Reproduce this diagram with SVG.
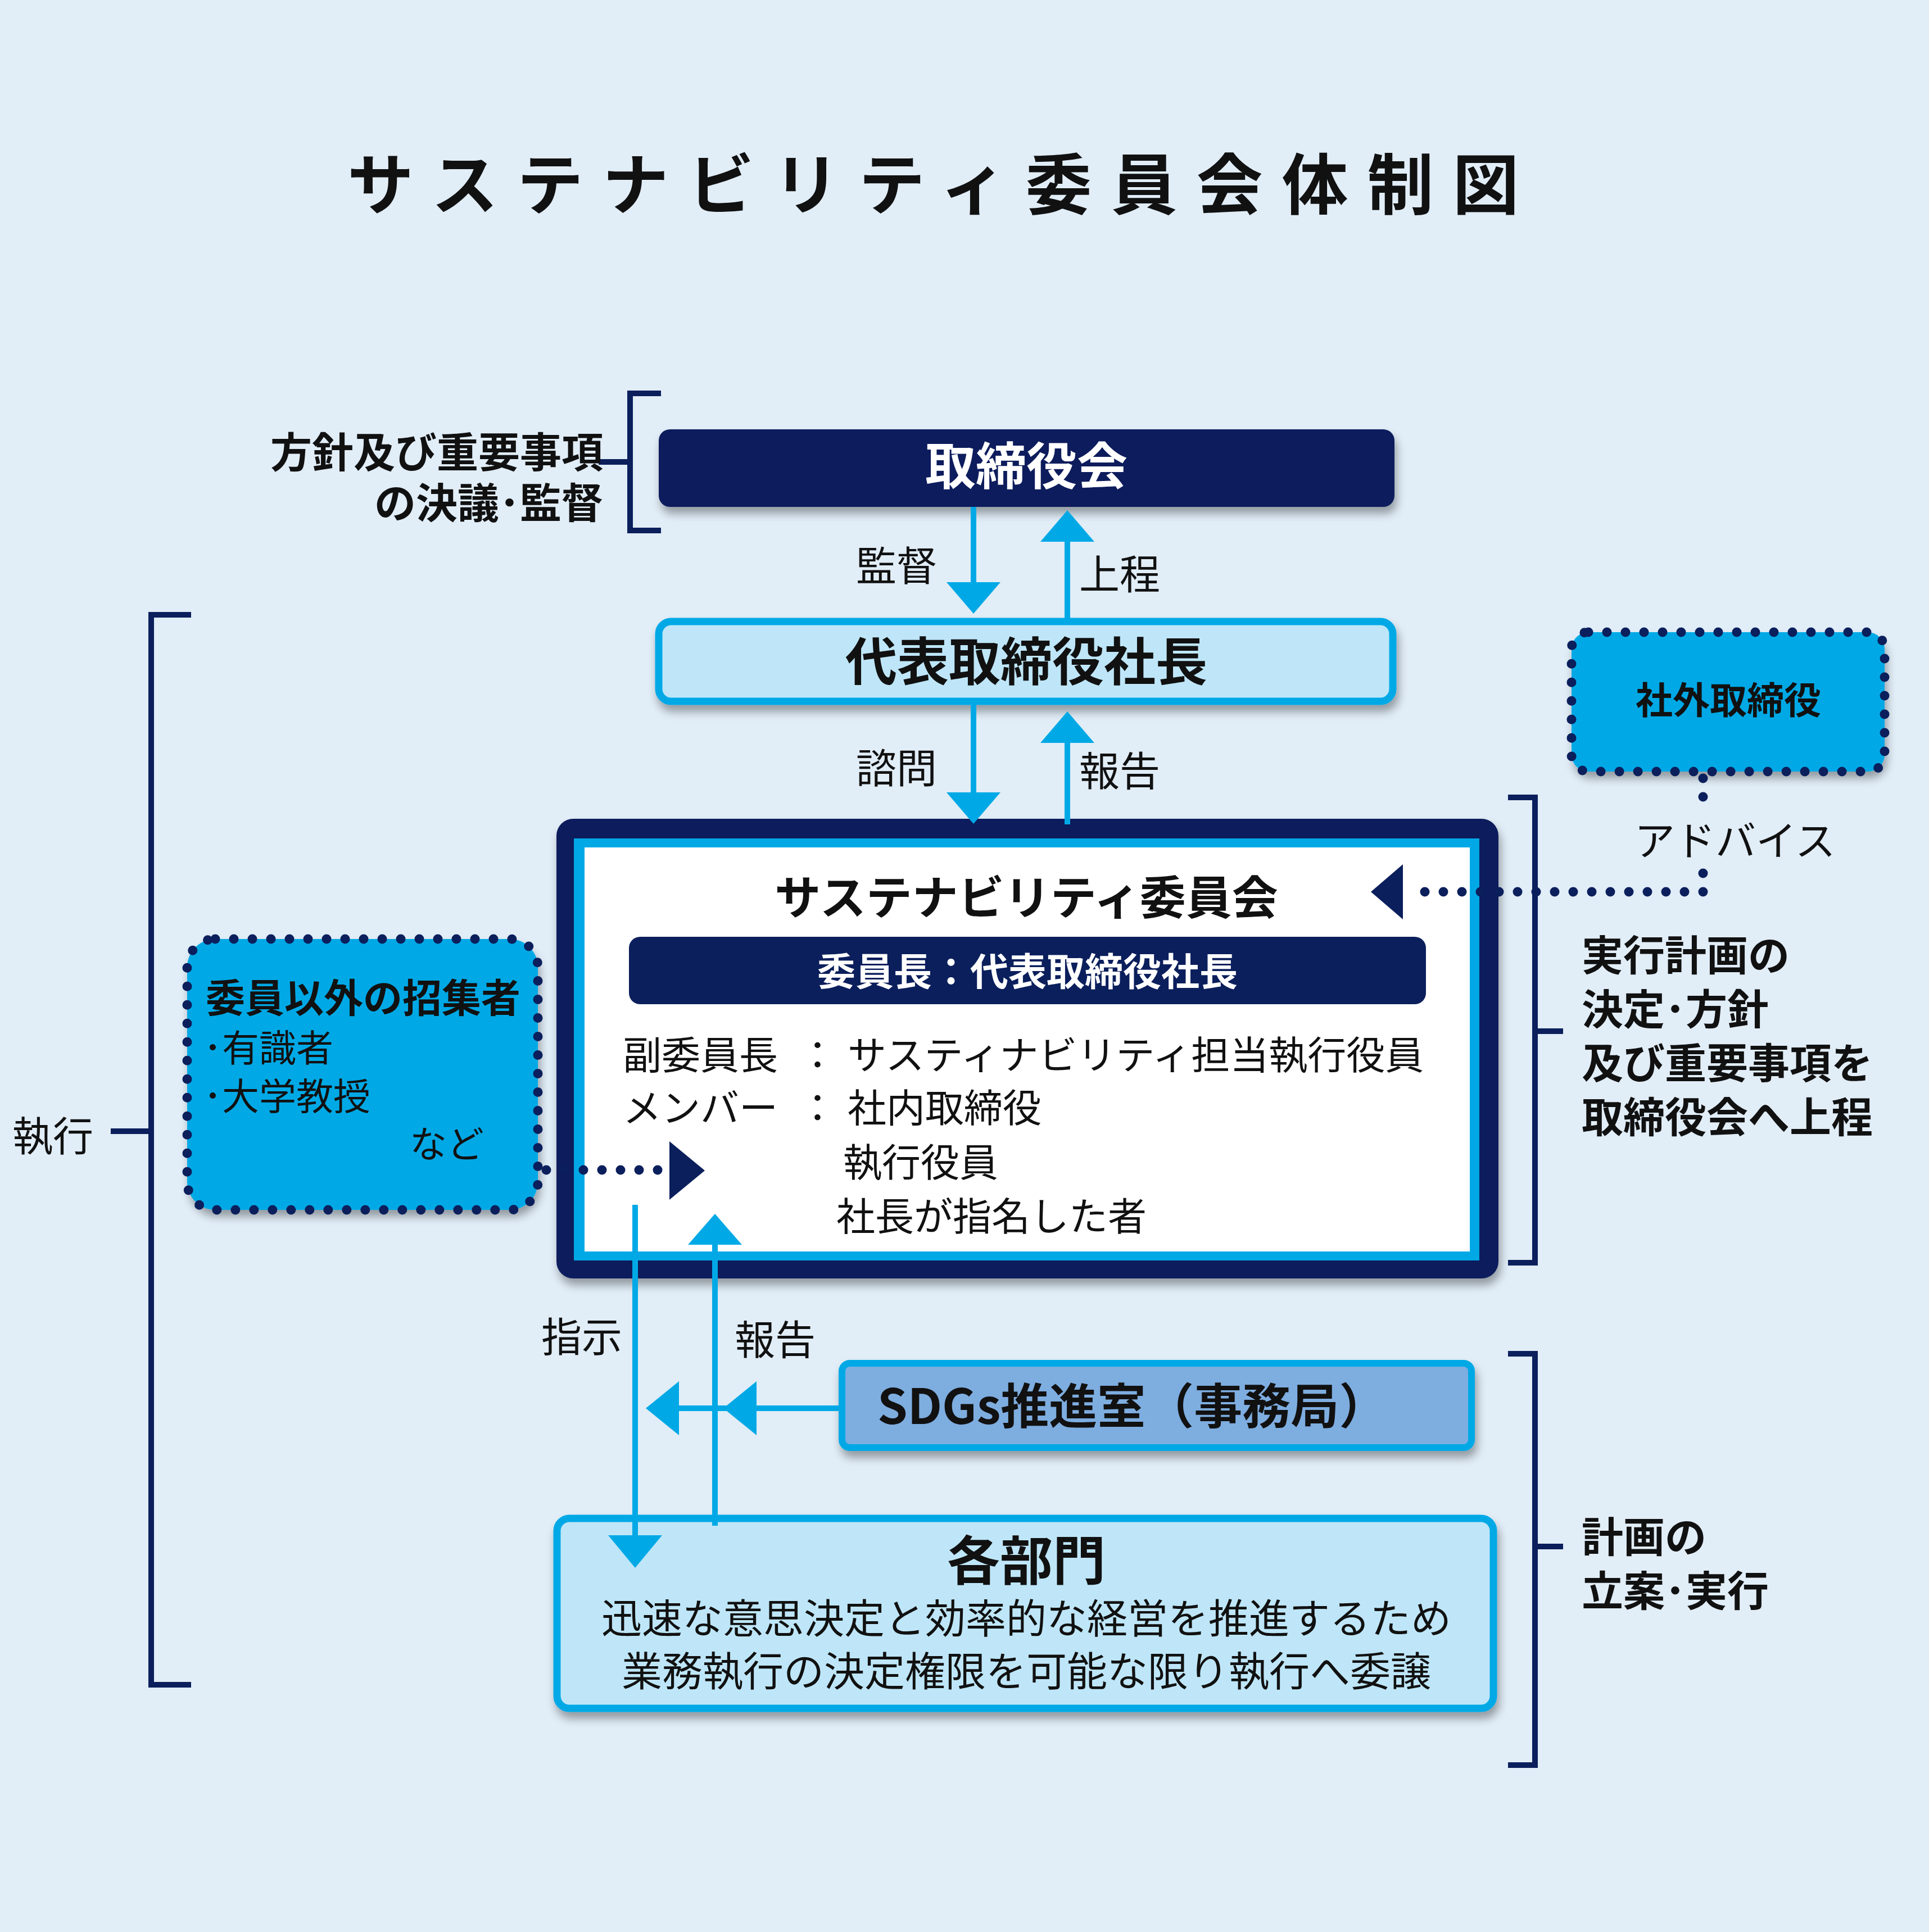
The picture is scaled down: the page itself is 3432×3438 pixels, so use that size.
<svg xmlns="http://www.w3.org/2000/svg" width="3432" height="3438" viewBox="0 0 3432 3438">
<defs>
<style>
text{font-family:"Noto Sans CJK JP","Noto Sans",sans-serif;fill:#111}
.b{font-weight:bold}
.w{fill:#fff}
.nv{stroke:#0B1F5C;fill:none;stroke-width:10}
.cy{stroke:#00A9E6;stroke-width:10;fill:none}
.dot{stroke:#0B1F5C;stroke-width:17;stroke-linecap:round;stroke-dasharray:0 33;fill:none}
</style>
<filter id="sh" x="-10%" y="-10%" width="120%" height="140%"><feDropShadow dx="4" dy="12" stdDeviation="8" flood-color="#000" flood-opacity="0.35"/></filter>
</defs>
<rect width="3432" height="3438" fill="#E1EDF7"/>
<text x="618" y="372" class="b" font-size="118" letter-spacing="34">サステナビリティ委員会体制図</text>

<g id="brackets">
<path class="nv" d="M1176,700 H1121 V944 H1176 M1121,822 H1065"/>
<path class="nv" d="M340,1094 H269 V2998 H340 M269,2013 H197"/>
<path class="nv" d="M2683,1419 H2731 V2247 H2683 M2731,1835 H2781"/>
<path class="nv" d="M2683,2409 H2731 V3141 H2683 M2731,2752 H2781"/>
</g>

<g id="labels">
<text x="1073" y="832" class="b" font-size="74" text-anchor="end">方針及び重要事項</text>
<text x="1073" y="922" class="b" font-size="74" text-anchor="end">の決議･監督</text>
<text x="1667" y="1033" font-size="72" text-anchor="end">監督</text>
<text x="1920" y="1048" font-size="72">上程</text>
<text x="1667" y="1393" font-size="72" text-anchor="end">諮問</text>
<text x="1920" y="1398" font-size="72">報告</text>
<text x="2908" y="1522" font-size="72">アドバイス</text>
<text x="2814" y="1727" class="b" font-size="74">実行計画の</text>
<text x="2814" y="1823" class="b" font-size="74">決定･方針</text>
<text x="2814" y="1919" class="b" font-size="74">及び重要事項を</text>
<text x="2814" y="2015" class="b" font-size="74">取締役会へ上程</text>
<text x="22" y="2048" font-size="72">執行</text>
<text x="963" y="2405" font-size="72">指示</text>
<text x="1307" y="2410" font-size="72">報告</text>
<text x="2814" y="2762" class="b" font-size="74">計画の</text>
<text x="2814" y="2858" class="b" font-size="74">立案･実行</text>
</g>

<g id="board">
<rect x="1172" y="764" width="1309" height="138" rx="20" fill="#0B1F5C" filter="url(#sh)"/>
<text x="1826" y="862" class="b w" font-size="90" text-anchor="middle">取締役会</text>
</g>

<g id="president">
<rect x="1172" y="1106" width="1306" height="142" rx="22" fill="#BEE6F8" stroke="#00A9E6" stroke-width="13" filter="url(#sh)"/>
<text x="1826" y="1211" class="b" font-size="92" text-anchor="middle">代表取締役社長</text>
</g>

<g id="outside">
<rect x="2796" y="1125" width="557" height="248" rx="30" fill="#00A9E6" filter="url(#sh)"/>
<rect x="2796" y="1125" width="557" height="248" rx="30" class="dot"/>
<text x="3075" y="1270" class="b" font-size="66" text-anchor="middle">社外取締役</text>
</g>

<g id="committee">
<rect x="990" y="1457" width="1676" height="818" rx="30" fill="#0B1F5C" filter="url(#sh)"/>
<rect x="1021" y="1492" width="1611" height="751" fill="#00A9E6"/>
<rect x="1040" y="1508" width="1575" height="719" fill="#fff"/>
<text x="1826" y="1627" class="b" font-size="82" text-anchor="middle">サステナビリティ委員会</text>
<rect x="1119" y="1667" width="1418" height="120" rx="20" fill="#0B1F5C"/>
<text x="1828" y="1754" class="b w" font-size="68" text-anchor="middle">委員長：代表取締役社長</text>
<text x="1108" y="1903" font-size="69">副委員長</text>
<text x="1420" y="1903" font-size="69">：</text>
<text x="1508" y="1903" font-size="69">サスティナビリティ担当執行役員</text>
<text x="1108" y="1997" font-size="69">メンバー</text>
<text x="1420" y="1997" font-size="69">：</text>
<text x="1508" y="1997" font-size="69">社内取締役</text>
<text x="1500" y="2094" font-size="69">執行役員</text>
<text x="1488" y="2190" font-size="69">社長が指名した者</text>
</g>

<g id="invitees">
<rect x="333" y="1671" width="624" height="482" rx="50" fill="#00A9E6" filter="url(#sh)"/>
<rect x="333" y="1671" width="624" height="482" rx="50" class="dot"/>
<text x="366" y="1802" class="b" font-size="70">委員以外の招集者</text>
<text x="362" y="1889" font-size="66">･有識者</text>
<text x="362" y="1975" font-size="66">･大学教授</text>
<text x="729" y="2060" font-size="66">など</text>
</g>

<g id="sdgs">
<rect x="1498" y="2426" width="1120" height="150" rx="14" fill="#7EADE0" stroke="#00A9E6" stroke-width="12" filter="url(#sh)"/>
<text x="1561" y="2534" class="b" font-size="86">SDGs推進室（事務局）</text>
</g>

<g id="departments">
<rect x="991" y="2702" width="1666" height="338" rx="22" fill="#BEE6F8" stroke="#00A9E6" stroke-width="13" filter="url(#sh)"/>
<text x="1826" y="2812" class="b" font-size="94" text-anchor="middle">各部門</text>
<text x="1826" y="2906" font-size="72" text-anchor="middle">迅速な意思決定と効率的な経営を推進するため</text>
<text x="1826" y="3000" font-size="72" text-anchor="middle">業務執行の決定権限を可能な限り執行へ委譲</text>
</g>

<g id="connectors">
<line class="cy" x1="1732" y1="902" x2="1732" y2="1040"/><polygon points="1684,1036 1780,1036 1732,1092" fill="#00A9E6"/>
<line class="cy" x1="1899" y1="1101" x2="1899" y2="960"/><polygon points="1851,964 1947,964 1899,908" fill="#00A9E6"/>
<line class="cy" x1="1732" y1="1253" x2="1732" y2="1415"/><polygon points="1684,1410 1780,1410 1732,1466" fill="#00A9E6"/>
<line class="cy" x1="1899" y1="1467" x2="1899" y2="1320"/><polygon points="1851,1322 1947,1322 1899,1266" fill="#00A9E6"/>
<line class="cy" x1="1130" y1="2144" x2="1130" y2="2740"/><polygon points="1082,2732 1178,2732 1130,2790" fill="#00A9E6"/>
<line class="cy" x1="1272" y1="2715" x2="1272" y2="2210"/><polygon points="1224,2215 1320,2215 1272,2160" fill="#00A9E6"/>
<line class="cy" x1="1495" y1="2506" x2="1200" y2="2506"/>
<polygon points="1208,2458 1208,2554 1149,2506" fill="#00A9E6"/>
<polygon points="1346,2458 1346,2554 1287,2506" fill="#00A9E6"/>
<path class="dot" d="M3030,1385 V1420"/>
<path class="dot" d="M3030,1554 V1587 H2520"/>
<polygon points="2496,1538 2496,1636 2439,1587" fill="#0B1F5C"/>
<path class="dot" d="M972,2082 H1180"/>
<polygon points="1191,2031 1191,2135 1254,2083" fill="#0B1F5C"/>
</g>
</svg>
